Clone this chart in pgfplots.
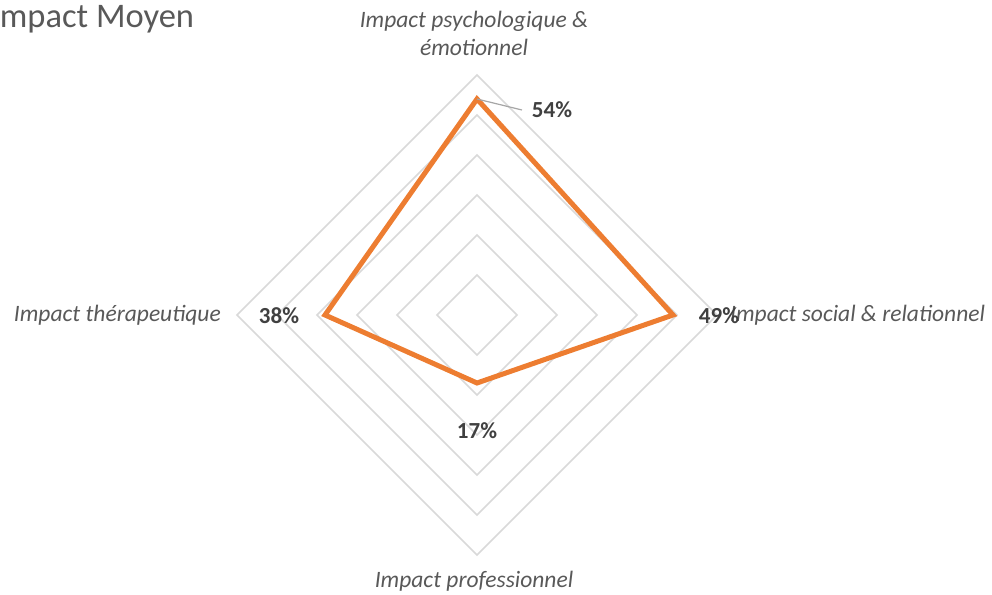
\documentclass[border=0pt]{standalone}
\usepackage{pgfplots}
\pgfplotsset{compat=1.18}
\usepackage{fontspec}
\setmainfont{Carlito}
\definecolor{serie}{HTML}{ED7D31}
\definecolor{ring}{HTML}{D9D9D9}
\definecolor{labtxt}{HTML}{595959}
\definecolor{valtxt}{HTML}{404040}
\definecolor{leader}{HTML}{A6A6A6}
\tikzset{
    catlab/.style={font=\fontsize{23.5}{28}\selectfont\itshape, text=labtxt, inner sep=0pt},
    vallab/.style={font=\fontsize{23}{28}\selectfont\bfseries, text=valtxt, inner sep=0pt},
}

\begin{document}
\begin{tikzpicture}
\begin{axis}[
    at={(0,0)}, anchor=south west,
    scale only axis,
    width=992pt, height=594pt,
    xmin=-119.25, xmax=128.75,
    ymin=-69.75, ymax=78.75,
    axis lines=none,
    clip=false,
]
% grid rings, 10% to 60%
\addplot[ring, line width=1.5pt, line join=miter] coordinates {(0,10) (10,0) (0,-10) (-10,0)} -- cycle;
\addplot[ring, line width=1.5pt, line join=miter] coordinates {(0,20) (20,0) (0,-20) (-20,0)} -- cycle;
\addplot[ring, line width=1.5pt, line join=miter] coordinates {(0,30) (30,0) (0,-30) (-30,0)} -- cycle;
\addplot[ring, line width=1.5pt, line join=miter] coordinates {(0,40) (40,0) (0,-40) (-40,0)} -- cycle;
\addplot[ring, line width=1.5pt, line join=miter] coordinates {(0,50) (50,0) (0,-50) (-50,0)} -- cycle;
\addplot[ring, line width=1.5pt, line join=miter] coordinates {(0,60) (60,0) (0,-60) (-60,0)} -- cycle;

% series: psychologique 54, social 49, professionnel 17, therapeutique 38
\addplot[serie, line width=5pt, line join=miter] coordinates {(0,54) (49,0) (0,-17) (-38,0)} -- cycle;

% leader line for 54%
\draw[leader, line width=1.2pt] (axis cs:0,54) -- (axis cs:11.25,51.25);

% category labels
\node[catlab, anchor=base] at (axis cs:-0.75,72) {Impact psychologique \&};
\node[catlab, anchor=base] at (axis cs:-0.75,65) {émotionnel};
\node[catlab, anchor=east] at (axis cs:-64,0) {Impact thérapeutique};
\node[catlab, anchor=west] at (axis cs:63.25,0) {Impact social \& relationnel};
\node[catlab, anchor=base] at (axis cs:-0.75,-68) {Impact professionnel};

% value labels
\node[vallab] at (axis cs:18.75,51.25) {54\%};
\node[vallab] at (axis cs:60.5,-0.25) {49\%};
\node[vallab] at (axis cs:0,-29) {17\%};
\node[vallab] at (axis cs:-49.5,-0.25) {38\%};

% title (clipped at the left edge as in the original)
\node[anchor=base west, inner sep=0pt, font=\fontsize{34.5}{40}\selectfont, text=labtxt] at (axis cs:-121.5,72) {Impact Moyen};
\end{axis}
\pgfresetboundingbox
\path[use as bounding box] (0,0) rectangle (992pt,594pt);
\end{tikzpicture}
\end{document}
